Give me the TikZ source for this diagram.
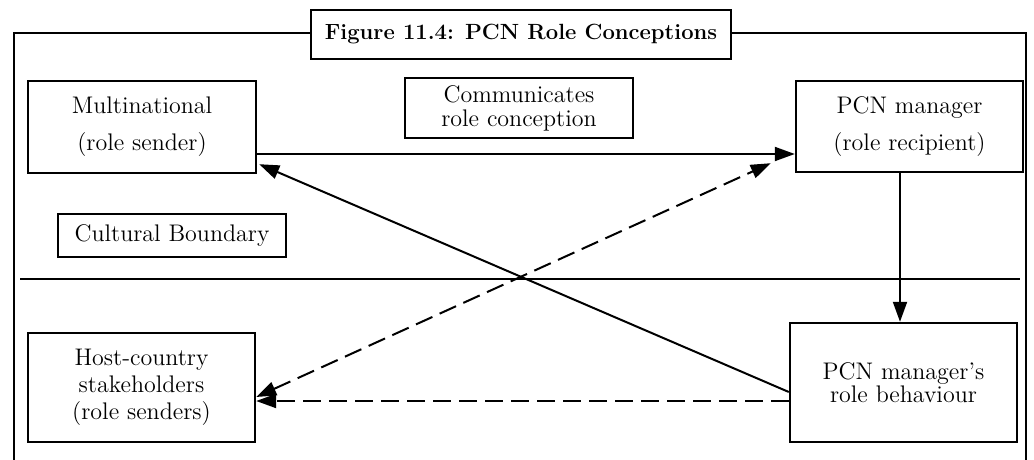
\documentclass[tikz,border=0pt]{standalone}
\usepackage{tikz}
\usetikzlibrary{arrows.meta}

\begin{document}
\begin{tikzpicture}[x=0.5pt,y=-0.5pt]

        \tikzset{
            box/.style={draw, line width=1.2pt, fill=white, align=center, inner sep=0pt, minimum width=114pt},
            box_text/.style={font=\fontsize{12}{#1}\selectfont},
            connect/.style={line width=1pt, -{Triangle[length=10pt,width=7pt]}},
            connect_dashed/.style={connect, dash pattern=on 9pt off 4pt},
            frame/.style={line width=1pt}
        }

        \useasboundingbox (0,0) rectangle (1034,460);

        \draw[frame] (14,460) -- (14,33) -- (1026,33) -- (1026,460);
        \draw[frame] (20,279) -- (1020,279);

        \node[box, minimum width=210pt, minimum height=24.5pt, font=\fontsize{11}{13}\selectfont\bfseries] (title) at (521,34.5) {Figure 11.4: PCN Role Conceptions};

        \node[box, box_text=18.5, minimum height=46pt] (multi) at (142,127) {Multinational\\(role sender)};
        \node[box, box_text=12, minimum height=30pt] (comm) at (519,108) {Communicates\\role conception};
        \node[box, box_text=18.5, minimum width=113.5pt, minimum height=45.5pt] (pcn) at (909.5,126.5) {PCN manager\\(role recipient)};
        \node[box, box_text=14, minimum height=21.5pt] (cult) at (172,235.5) {Cultural Boundary};
        \node[box, box_text=13.5, minimum width=113.5pt, minimum height=54.5pt] (host) at (141.5,387.5) {Host-country\\stakeholders\\(role senders)};
        \node[box, box_text=10, minimum width=113.5pt, minimum height=59.5pt] (behav) at (903.5,382.5) {PCN manager's\\role behaviour};

        \draw[connect] ([yshift=-13.5pt]multi.east) -- ([yshift=-13.75pt]pcn.west);
        \draw[connect] ([xshift=-4.75pt]pcn.south) -- ([xshift=-1.75pt]behav.north);
        \draw[connect] ([yshift=-4.75pt]behav.west) -- ([xshift=1pt,yshift=5pt]multi.south east);
        \draw[connect_dashed] ([yshift=-9.25pt]behav.west) -- ([yshift=-6.75pt]host.east);
        \draw[connect_dashed, {Triangle[length=10pt,width=7pt]}-{Triangle[length=10pt,width=7pt]}] ([yshift=-4.75pt]host.east) -- ([xshift=-12pt,yshift=5pt]pcn.south west);

    \end{tikzpicture}
\end{document}
